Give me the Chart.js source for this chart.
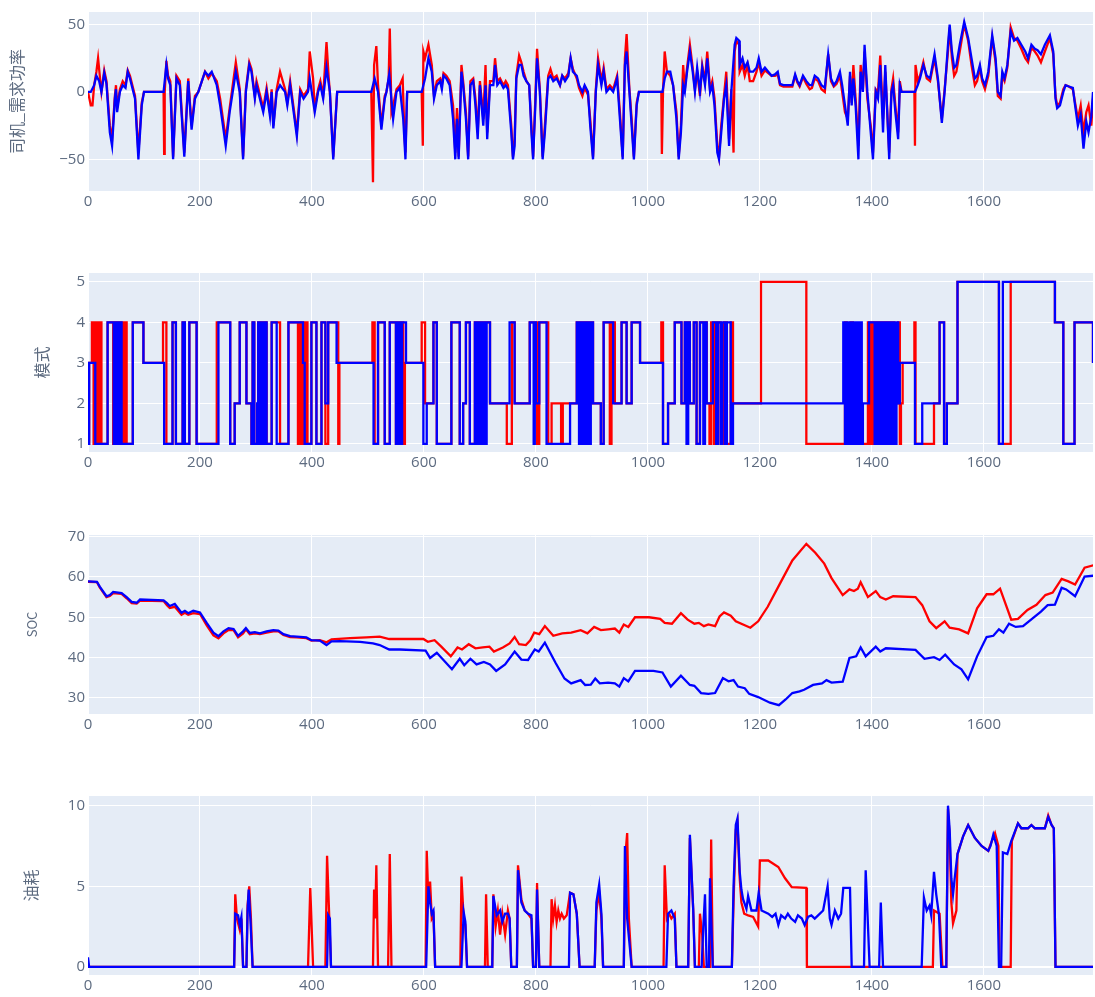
<!DOCTYPE html>
<html>
<head>
<meta charset="utf-8">
<title>chart</title>
<script src="https://cdn.jsdelivr.net/npm/chart.js@4.4.1/dist/chart.umd.min.js"></script>
<style>
  html, body { margin: 0; padding: 0; background: #ffffff; }
  body { width: 1095px; height: 997px; position: relative; overflow: hidden; }
  .panel { position: absolute; left: 0; width: 1095px; height: 221px; }
</style>
</head>
<body>
<div class="panel" style="top:0px"><canvas id="powerChart" width="1095" height="221"></canvas></div>
<div class="panel" style="top:261px"><canvas id="modeChart" width="1095" height="221"></canvas></div>
<div class="panel" style="top:523px"><canvas id="socChart" width="1095" height="221"></canvas></div>
<div class="panel" style="top:784px"><canvas id="fuelChart" width="1095" height="221"></canvas></div>
<script>
// tick labels
const xTicks = [0, 200, 400, 600, 800, 1000, 1200, 1400, 1600];
const powerTicks = [-50, 0, 50];
const modeTicks = [1, 2, 3, 4, 5];
const socTicks = [30, 40, 50, 60, 70];
const fuelTicks = [0, 5, 10];

// 司机_需求功率  [time, value]
const powerBlue = [[0,0],[5,0],[11,5],[15,12],[20,8],[24,0],[29,14],[33,6],[39,-30],[43,-40],[48,-5],[50,2],[52,-15],[57,0],[62,5],[67,3],[71,15],[75,10],[81,0],[84,-5],[90,-50],[96,-10],[100,0],[135,0],[140,20],[143,10],[147,5],[152,-50],[158,10],[164,5],[172,-48],[179,8],[185,-28],[191,-5],[197,0],[209,15],[215,12],[221,15],[230,5],[236,-10],[241,-25],[246,-40],[253,-15],[264,15],[271,0],[277,-50],[282,0],[288,20],[292,15],[298,-5],[301,5],[307,-5],[313,-15],[319,0],[325,-18],[328,0],[331,-27],[337,0],[343,5],[352,0],[356,-10],[361,5],[373,-33],[379,0],[385,-5],[393,0],[396,10],[405,-15],[411,0],[415,5],[420,-5],[426,18],[432,0],[438,-50],[445,0],[506,0],[512,10],[518,0],[524,-28],[530,-5],[533,0],[538,13],[545,-20],[551,0],[557,3],[563,-20],[567,-50],[570,0],[596,0],[602,10],[608,25],[614,15],[618,-5],[623,5],[629,8],[632,2],[635,12],[640,10],[646,5],[652,-20],[656,-50],[659,-20],[662,-50],[667,15],[670,5],[675,-20],[679,-50],[683,5],[688,8],[692,-10],[696,-35],[700,5],[703,-10],[706,-25],[710,5],[713,-35],[718,5],[724,5],[727,20],[731,5],[736,8],[742,3],[746,5],[750,2],[756,-30],[759,-50],[762,-40],[765,10],[770,20],[774,20],[778,12],[783,8],[788,5],[792,-30],[795,-50],[799,-10],[802,25],[807,0],[812,-50],[816,-30],[822,10],[826,12],[831,8],[837,10],[843,5],[847,12],[852,8],[858,12],[862,25],[866,15],[873,12],[877,5],[883,0],[887,5],[893,0],[897,-25],[902,-50],[907,0],[911,20],[917,5],[921,15],[926,0],[932,3],[938,0],[945,10],[950,-20],[955,-50],[959,20],[962,30],[967,0],[971,-25],[975,-50],[980,-10],[984,0],[1026,0],[1030,10],[1034,15],[1040,15],[1045,5],[1051,-20],[1055,-50],[1059,-30],[1063,5],[1066,0],[1070,15],[1075,30],[1080,15],[1084,0],[1088,18],[1093,0],[1097,18],[1102,5],[1106,25],[1111,0],[1115,5],[1119,-10],[1124,-45],[1127,-50],[1131,-30],[1136,-5],[1140,5],[1145,-40],[1149,0],[1155,35],[1158,40],[1163,38],[1164,20],[1169,25],[1173,18],[1178,22],[1182,15],[1188,15],[1194,18],[1198,25],[1203,15],[1209,18],[1215,15],[1221,12],[1227,13],[1232,15],[1236,6],[1242,5],[1251,5],[1258,5],[1263,13],[1267,8],[1271,5],[1277,12],[1283,8],[1289,5],[1293,5],[1298,12],[1304,10],[1310,5],[1316,3],[1322,28],[1327,10],[1332,5],[1337,8],[1343,15],[1347,5],[1352,-10],[1357,-25],[1361,15],[1364,-10],[1367,10],[1371,-10],[1376,-50],[1380,15],[1384,0],[1387,35],[1392,0],[1398,-30],[1402,-50],[1407,0],[1411,-5],[1415,20],[1420,-30],[1424,20],[1431,-50],[1435,0],[1438,5],[1442,-15],[1447,-35],[1450,5],[1453,0],[1477,0],[1482,5],[1486,10],[1492,20],[1498,12],[1504,10],[1512,28],[1518,10],[1525,-23],[1530,0],[1536,35],[1539,50],[1543,30],[1547,18],[1551,20],[1557,35],[1565,52],[1572,40],[1578,25],[1584,10],[1588,12],[1593,20],[1597,10],[1602,5],[1608,15],[1615,42],[1621,25],[1625,0],[1630,-3],[1633,15],[1637,10],[1642,20],[1648,45],[1654,38],[1660,40],[1667,35],[1674,30],[1679,25],[1685,35],[1691,32],[1696,31],[1702,28],[1709,35],[1718,42],[1724,30],[1728,-5],[1731,-12],[1736,-10],[1742,0],[1746,5],[1752,4],[1759,3],[1763,-10],[1768,-25],[1773,-17],[1778,-42],[1783,-22],[1787,-30],[1792,-18],[1795,0]];
const powerRed = [[0,0],[5,-10],[8,-10],[11,5],[15,15],[18,25],[22,8],[24,0],[29,16],[33,8],[39,-25],[43,-35],[48,-3],[50,5],[52,-12],[57,2],[62,8],[67,5],[71,16],[75,12],[81,2],[84,-3],[90,-45],[96,-8],[100,0],[135,0],[136,-46],[137,0],[140,23],[143,12],[147,8],[152,-48],[158,12],[164,8],[172,-45],[179,10],[185,-25],[191,-3],[197,0],[209,15],[215,10],[221,14],[230,8],[236,-5],[241,-20],[246,-35],[253,-12],[264,22],[271,2],[277,-48],[282,2],[288,22],[292,17],[298,-3],[301,8],[307,-2],[313,-12],[319,3],[325,-15],[328,2],[331,-25],[337,2],[343,15],[352,2],[356,-8],[361,8],[373,-30],[379,2],[385,-3],[393,2],[396,30],[402,10],[405,-12],[411,2],[415,8],[420,-3],[426,37],[430,10],[432,0],[438,-48],[445,0],[506,0],[509,-67],[511,20],[515,34],[518,5],[524,-25],[530,-3],[533,0],[537,10],[539,47],[542,-15],[545,-10],[551,2],[557,5],[562,10],[565,-30],[567,-45],[570,0],[596,0],[598,-40],[599,30],[602,25],[608,35],[614,20],[618,-3],[623,8],[629,10],[632,5],[635,14],[640,12],[646,8],[652,-10],[656,-45],[659,-12],[662,-48],[667,20],[670,8],[675,-15],[679,-48],[683,8],[688,10],[692,-5],[696,-30],[700,8],[703,-5],[706,-20],[710,20],[713,-30],[718,8],[724,8],[727,25],[731,8],[736,10],[742,5],[746,8],[750,5],[756,-25],[759,-48],[762,-35],[765,12],[770,27],[774,22],[778,15],[783,8],[788,5],[792,-25],[795,-48],[799,-5],[802,32],[807,2],[812,-48],[816,-25],[822,12],[826,17],[831,10],[837,12],[843,5],[847,12],[852,10],[858,14],[862,25],[866,17],[873,10],[877,3],[883,-3],[887,3],[893,-2],[897,-20],[902,-48],[907,2],[911,25],[917,8],[921,18],[926,2],[932,5],[938,2],[945,12],[950,-15],[955,-48],[959,25],[962,43],[967,2],[971,-20],[975,-48],[980,-8],[984,0],[1024,0],[1025,-46],[1027,0],[1030,30],[1034,15],[1040,12],[1045,5],[1051,-15],[1055,-48],[1059,-25],[1063,20],[1066,2],[1070,18],[1075,35],[1080,18],[1084,2],[1088,15],[1093,-3],[1097,20],[1102,8],[1106,30],[1111,2],[1115,8],[1119,-5],[1124,-40],[1127,-48],[1131,-25],[1136,-3],[1140,15],[1145,-35],[1149,2],[1153,-45],[1155,30],[1158,38],[1163,35],[1164,15],[1169,20],[1173,12],[1178,20],[1182,8],[1188,8],[1194,15],[1198,22],[1203,12],[1209,16],[1215,14],[1221,12],[1227,12],[1232,13],[1236,5],[1242,4],[1251,4],[1258,4],[1263,12],[1267,7],[1271,4],[1277,11],[1283,6],[1289,2],[1293,3],[1298,10],[1304,8],[1310,2],[1316,0],[1322,28],[1327,8],[1332,4],[1337,6],[1343,12],[1347,0],[1352,-15],[1357,-20],[1361,12],[1364,-8],[1367,20],[1371,-5],[1376,-40],[1380,20],[1384,2],[1387,30],[1392,-5],[1398,-25],[1402,-45],[1407,2],[1411,0],[1415,27],[1420,-20],[1424,15],[1431,-45],[1435,2],[1438,10],[1442,-10],[1447,-30],[1450,8],[1453,0],[1476,0],[1477,-40],[1478,20],[1482,8],[1486,12],[1492,22],[1498,10],[1504,8],[1512,25],[1518,8],[1525,-20],[1530,2],[1536,30],[1539,48],[1543,25],[1547,12],[1551,15],[1557,30],[1565,50],[1572,38],[1578,20],[1584,5],[1588,8],[1593,18],[1597,8],[1602,2],[1608,12],[1615,40],[1621,22],[1625,-3],[1630,-5],[1633,12],[1637,8],[1642,18],[1648,48],[1654,40],[1660,38],[1667,32],[1674,25],[1679,22],[1685,33],[1691,30],[1696,27],[1702,22],[1709,30],[1718,40],[1724,28],[1728,-3],[1731,-10],[1736,-8],[1742,2],[1746,5],[1752,4],[1759,2],[1763,-8],[1768,-20],[1773,-10],[1778,-30],[1783,-15],[1787,-10],[1792,-25],[1795,-5]];

// 模式  [time where the mode starts, mode]
const modeBlue = [[0,1],[2,3],[13,1],[35,4],[46,1],[48,4],[51,1],[53,4],[56,1],[58,4],[60,1],[80,4],[99,3],[136,1],[151,4],[157,1],[169,4],[173,1],[181,4],[194,1],[233,4],[254,1],[262,2],[271,4],[283,2],[292,1],[294,4],[297,1],[302,2],[304,4],[306,1],[308,4],[311,1],[313,4],[315,1],[317,4],[319,1],[328,4],[337,1],[358,4],[384,3],[387,1],[399,4],[408,1],[417,4],[424,2],[429,4],[444,3],[510,1],[518,4],[530,1],[539,4],[550,1],[554,4],[558,1],[561,4],[568,3],[599,1],[605,2],[617,4],[623,1],[649,4],[664,1],[670,2],[675,4],[682,1],[691,4],[694,1],[697,4],[700,1],[702,4],[705,1],[707,4],[710,1],[712,4],[718,2],[753,4],[762,2],[789,4],[796,1],[798,4],[800,2],[806,4],[819,1],[861,2],[873,4],[877,1],[880,4],[884,1],[887,4],[890,1],[893,4],[896,1],[898,4],[902,2],[916,1],[921,4],[938,2],[953,4],[962,2],[971,4],[986,3],[1027,1],[1036,2],[1048,4],[1060,2],[1066,4],[1069,1],[1072,4],[1075,2],[1082,4],[1087,1],[1093,4],[1099,1],[1102,4],[1105,2],[1116,4],[1122,1],[1125,4],[1130,1],[1133,4],[1138,1],[1141,4],[1148,1],[1152,2],[1349,4],[1352,1],[1355,4],[1358,1],[1361,4],[1364,1],[1367,4],[1370,1],[1373,4],[1377,1],[1379,4],[1382,1],[1384,2],[1395,4],[1405,1],[1408,4],[1411,1],[1414,4],[1417,1],[1420,4],[1423,1],[1426,4],[1429,1],[1432,4],[1435,1],[1438,4],[1441,1],[1444,4],[1447,2],[1450,3],[1477,1],[1490,2],[1521,4],[1529,1],[1534,2],[1553,5],[1627,1],[1634,5],[1727,4],[1742,1],[1762,4],[1795,3]];
const modeRed = [[0,1],[2,3],[7,4],[10,1],[13,4],[16,1],[20,4],[24,1],[35,4],[45,1],[47,4],[50,1],[52,4],[55,1],[57,4],[59,1],[62,4],[65,1],[67,4],[69,1],[80,4],[99,3],[134,4],[140,1],[151,4],[157,1],[169,4],[173,1],[181,4],[194,1],[230,4],[254,1],[262,2],[271,4],[283,2],[292,1],[294,4],[297,1],[304,4],[319,1],[328,4],[343,1],[358,4],[375,1],[377,4],[380,1],[382,4],[386,1],[389,4],[392,1],[399,4],[408,1],[417,4],[424,1],[429,4],[447,1],[449,3],[508,4],[512,1],[518,4],[530,1],[539,4],[550,1],[554,4],[563,1],[566,3],[596,4],[602,2],[617,4],[623,1],[649,4],[664,1],[670,2],[675,4],[682,1],[691,4],[718,2],[748,1],[757,4],[762,2],[789,4],[802,1],[806,4],[822,1],[828,2],[845,1],[848,2],[873,4],[902,2],[916,1],[921,4],[932,1],[935,4],[941,2],[953,4],[962,2],[971,4],[986,3],[1024,4],[1027,1],[1036,2],[1048,4],[1060,2],[1066,4],[1075,2],[1082,4],[1087,1],[1093,4],[1105,2],[1110,1],[1113,4],[1118,1],[1122,4],[1130,1],[1136,4],[1141,1],[1148,4],[1152,2],[1202,5],[1283,1],[1352,4],[1355,1],[1362,4],[1366,1],[1393,4],[1396,1],[1399,4],[1402,1],[1405,4],[1408,1],[1412,4],[1416,1],[1420,4],[1424,1],[1428,4],[1432,1],[1436,4],[1440,2],[1447,4],[1450,1],[1452,2],[1455,3],[1476,4],[1478,1],[1511,2],[1521,4],[1529,1],[1534,2],[1553,5],[1627,1],[1648,5],[1727,4],[1742,1],[1762,4],[1795,3]];

// SOC  [time, value]
const socBlue = [[0,58.9],[16,58.8],[21,57.6],[33,55.2],[39,55.5],[45,56.3],[60,56],[69,55],[78,53.8],[87,53.6],[93,54.4],[135,54.2],[141,53.5],[146,52.8],[155,53.3],[167,51.1],[173,51.6],[179,51],[188,51.6],[200,51.2],[212,48.6],[224,46.2],[233,45.3],[242,46.5],[251,47.3],[260,47.1],[268,45.4],[277,46.5],[282,47.3],[289,46.1],[298,46.3],[307,46],[319,46.5],[331,46.8],[340,46.7],[349,45.8],[361,45.3],[373,45.2],[390,45],[399,44.3],[414,44.2],[426,43.1],[435,44],[450,44.1],[486,43.9],[509,43.5],[521,43.1],[538,42],[557,42],[603,41.7],[611,39.9],[623,41.2],[650,37.1],[664,39.7],[672,38.1],[683,39.7],[694,38.3],[707,38.9],[718,38.3],[729,36.7],[745,38.3],[762,41.5],[774,39.5],[786,39.4],[798,42],[805,41.5],[816,43.7],[835,38.7],[851,34.8],[863,33.6],[880,34.4],[888,33.2],[898,33.3],[906,34.8],[914,33.6],[929,33.8],[941,33.6],[949,32.8],[957,34.9],[965,34.1],[977,36.7],[1010,36.7],[1026,36.3],[1041,32.8],[1059,35.5],[1075,33.2],[1083,33],[1095,31.2],[1108,31],[1120,31.2],[1134,34.9],[1144,34.1],[1153,34.4],[1161,32.8],[1173,32.4],[1181,31],[1197,30.2],[1218,28.8],[1234,28.2],[1246,29.6],[1258,31.2],[1271,31.6],[1279,32],[1295,33.2],[1311,33.6],[1319,34.4],[1328,33.8],[1348,34],[1360,39.9],[1372,40.3],[1380,42.5],[1389,40.3],[1407,42.7],[1415,41.5],[1425,42.3],[1478,41.9],[1494,39.7],[1511,40.1],[1521,39.4],[1531,40.7],[1547,38.3],[1560,37.1],[1572,34.6],[1588,40.3],[1605,45.1],[1617,45.4],[1627,47],[1635,46.2],[1645,48.4],[1657,47.6],[1670,47.8],[1686,49.6],[1702,51.4],[1714,53],[1727,53.1],[1739,57.3],[1747,56.9],[1763,55.2],[1780,60.1],[1796,60.3]];
const socRed = [[0,58.8],[16,58.7],[21,57.4],[33,55],[39,55.3],[45,56],[60,55.8],[69,54.7],[78,53.5],[87,53.4],[93,54.1],[135,54],[141,53],[146,52.3],[155,52.6],[167,50.6],[173,51.1],[179,50.6],[188,51],[200,50.8],[212,48],[224,45.5],[233,44.8],[242,46],[251,46.8],[260,46.8],[268,45],[277,46],[282,47],[289,45.8],[298,46],[307,45.8],[319,46.2],[331,46.5],[340,46.5],[349,45.6],[361,45.1],[373,45],[390,44.8],[399,44.2],[414,44.3],[426,43.8],[435,44.5],[468,44.8],[497,45],[521,45.2],[538,44.6],[562,44.6],[599,44.6],[607,43.9],[619,44.3],[631,42.7],[648,40.3],[660,42.5],[668,42],[680,43.3],[692,42.3],[705,42.5],[717,42.7],[725,41.5],[741,42.5],[753,43.5],[762,45.1],[770,43.3],[782,43.1],[790,44.3],[797,46.2],[806,45.8],[816,47.8],[831,45.4],[847,46],[863,46.2],[880,46.8],[892,46],[904,47.6],[916,46.8],[929,47],[941,47.2],[949,46.2],[957,48.2],[965,47.6],[977,50],[1002,50],[1022,49.6],[1030,48.6],[1043,48.4],[1059,51],[1071,49.4],[1083,48.4],[1091,48.6],[1100,47.8],[1108,48.2],[1120,47.8],[1128,50.2],[1136,51.2],[1148,50.4],[1157,49],[1173,48],[1183,47.4],[1197,49],[1214,52.6],[1238,58.9],[1258,64.1],[1283,68.2],[1299,66],[1315,63.3],[1328,59.7],[1348,55.5],[1360,56.9],[1368,56.5],[1375,57.1],[1380,58.7],[1393,55],[1407,56.5],[1415,55],[1425,54.4],[1438,55.2],[1478,55],[1490,53],[1503,49],[1515,47.3],[1530,49],[1539,47.4],[1556,47],[1572,46],[1588,52.2],[1605,55.7],[1617,55.7],[1629,57.1],[1649,49.4],[1661,49.6],[1678,51.8],[1694,53.1],[1710,55.5],[1723,56.1],[1739,59.5],[1751,58.9],[1763,58.1],[1780,62.3],[1796,62.9]];

// 油耗  [time, value]
const fuelBlue = [[0,0.6],[2,0],[261,0],[263,3.3],[268,3.2],[271,2.6],[274,3.1],[277,0],[283,0],[285,3.5],[287,4.8],[290,3.0],[294,0],[427,0],[429,3.2],[432,3.0],[434,0],[604,0],[608,5.0],[611,4.0],[614,3.3],[617,3.5],[620,0],[667,0],[671,3.4],[674,2.8],[677,0],[722,0],[724,4.4],[730,3.2],[736,3.5],[740,2.8],[745,3.3],[750,3.3],[753,3.0],[756,0],[766,0],[768,6.0],[774,4.0],[780,3.5],[786,3.3],[792,3.2],[795,0],[800,0],[802,4.8],[806,0],[859,0],[861,4.6],[867,4.5],[873,3.3],[878,0],[905,0],[908,4.0],[913,5.1],[917,3.3],[920,0],[957,0],[959,7.5],[963,3.0],[971,0],[1033,0],[1036,3.3],[1042,3.5],[1048,3.0],[1051,0],[1072,0],[1075,8.2],[1081,3.5],[1084,0],[1096,0],[1099,2.5],[1102,4.5],[1105,0],[1109,0],[1111,5.5],[1114,2.0],[1116,0],[1150,0],[1153,5.0],[1157,8.8],[1160,9.2],[1164,5.9],[1167,4.8],[1170,4.2],[1176,3.6],[1179,4.4],[1185,3.5],[1194,3.5],[1198,4.6],[1203,3.5],[1215,3.3],[1222,3.1],[1228,3.3],[1233,2.6],[1238,3.2],[1245,3.0],[1250,3.3],[1256,3.0],[1263,2.8],[1268,3.2],[1275,3.0],[1280,2.6],[1286,3.1],[1292,3.2],[1298,3.0],[1304,3.2],[1313,3.5],[1321,5.0],[1325,3.0],[1328,2.6],[1334,3.5],[1340,3.0],[1345,3.3],[1349,4.9],[1361,4.9],[1364,0],[1386,0],[1389,6.0],[1392,3.5],[1396,0],[1413,0],[1416,4.0],[1420,0],[1489,0],[1493,4.3],[1498,3.5],[1503,3.8],[1506,3.2],[1511,5.9],[1515,4.5],[1520,3.2],[1524,0],[1533,0],[1536,10.0],[1539,8.5],[1542,5.5],[1545,4.5],[1548,5.5],[1553,7.0],[1563,8.1],[1572,8.8],[1584,8.0],[1596,7.5],[1608,7.2],[1612,7.5],[1617,8.2],[1623,7.5],[1627,0],[1631,0],[1634,7.1],[1642,7.0],[1649,7.8],[1661,8.9],[1667,8.6],[1679,8.6],[1685,8.8],[1691,8.6],[1709,8.6],[1715,9.3],[1721,8.8],[1725,8.6],[1728,0],[1796,0]];
const fuelRed = [[0,0],[261,0],[263,4.5],[266,3.0],[271,2.3],[274,3.0],[277,0],[283,0],[285,3.8],[288,5.0],[291,3.0],[294,0],[393,0],[397,4.9],[402,0],[424,0],[427,6.9],[432,2.0],[434,0],[509,0],[511,4.8],[513,3.0],[515,6.3],[518,0],[536,0],[539,7.0],[542,0],[603,0],[605,7.2],[608,4.0],[611,5.3],[614,3.0],[617,3.2],[620,0],[665,0],[667,5.6],[671,3.0],[674,2.6],[677,0],[709,0],[711,4.5],[714,0],[722,0],[724,4.5],[728,2.5],[732,3.5],[736,2.0],[740,3.3],[745,2.0],[750,3.5],[753,3.0],[756,0],[766,0],[768,6.3],[774,4.2],[780,3.5],[786,3.3],[792,3.0],[795,0],[800,0],[802,5.2],[806,0],[826,0],[828,4.2],[831,3.0],[834,3.8],[837,2.8],[840,3.5],[843,3.0],[846,3.3],[850,3.0],[855,3.2],[861,4.6],[867,4.5],[873,3.3],[878,0],[905,0],[908,3.5],[913,4.6],[917,3.0],[920,0],[957,0],[960,7.0],[963,8.3],[966,3.0],[971,0],[1028,0],[1030,6.3],[1034,3.0],[1038,3.3],[1042,3.0],[1048,3.3],[1051,0],[1072,0],[1075,8.0],[1081,3.5],[1084,0],[1091,0],[1093,3.3],[1097,2.0],[1100,0],[1111,0],[1113,7.9],[1116,0],[1150,0],[1153,4.0],[1157,8.5],[1160,9.0],[1164,5.5],[1167,4.0],[1172,3.3],[1179,3.2],[1188,3.1],[1197,2.5],[1200,6.6],[1215,6.6],[1233,6.2],[1245,5.5],[1257,4.95],[1283,4.9],[1284,0],[1509,0],[1511,3.5],[1521,3.3],[1526,0],[1533,0],[1536,9.8],[1539,8.0],[1542,4.0],[1545,2.7],[1551,3.5],[1553,7.0],[1563,8.1],[1572,8.8],[1584,8.0],[1596,7.5],[1608,7.2],[1612,7.6],[1620,8.3],[1626,7.5],[1628,0],[1648,0],[1650,7.8],[1661,8.9],[1667,8.6],[1679,8.6],[1685,8.8],[1691,8.6],[1709,8.6],[1715,9.4],[1721,8.8],[1725,8.6],[1728,0],[1796,0]];

const TEXT_COLOR = "#5d6b80";
const PLOT_BG = "#e5ecf6";

// plotly-like plot background
const plotBackground = {
  id: "plotBackground",
  beforeDraw(chart) {
    const { ctx, chartArea } = chart;
    ctx.save();
    ctx.fillStyle = PLOT_BG;
    ctx.fillRect(chartArea.left, chartArea.top, chartArea.width, chartArea.height);
    ctx.restore();
  },
};

const toPoints = (rows) => rows.map(([x, y]) => ({ x, y }));
const minusSign = (v) => (v < 0 ? "\u2212" + Math.abs(v) : String(v));

function makeChart(canvasId, cfg) {
  const ctx = document.getElementById(canvasId).getContext("2d");
  return new Chart(ctx, {
    type: "line",
    data: {
      datasets: [
        {
          data: toPoints(cfg.blue),
          borderColor: "#0000ff",
          borderWidth: 2.3,
          pointRadius: 0,
          stepped: cfg.stepped || false,
        },
        {
          data: toPoints(cfg.red),
          borderColor: "#ff0000",
          borderWidth: 2.3,
          pointRadius: 0,
          stepped: cfg.stepped || false,
        },
      ],
    },
    options: {
      responsive: false,
      animation: false,
      events: [],
      layout: { padding: { top: 4, right: 2, left: cfg.titleLeft, bottom: 0 } },
      plugins: { legend: { display: false }, tooltip: { enabled: false } },
      scales: {
        x: {
          type: "linear",
          min: 0,
          max: 1795,
          afterBuildTicks: (axis) => {
            axis.ticks = xTicks.map((v) => ({ value: v }));
          },
          afterFit: (axis) => {
            axis.height = 30;
          },
          grid: {
            color: "#ffffff",
            lineWidth: (c) => (c.tick && c.tick.value === 0 ? 2 : 1),
            drawTicks: false,
          },
          border: { display: false },
          ticks: {
            color: TEXT_COLOR,
            padding: 2,
            maxRotation: 0,
            font: { family: "'Open Sans', sans-serif", size: 15 },
            callback: (v) => String(v),
          },
        },
        y: {
          type: "linear",
          min: cfg.min,
          max: cfg.max,
          afterBuildTicks: (axis) => {
            axis.ticks = cfg.ticks.map((v) => ({ value: v }));
          },
          afterFit: (axis) => {
            axis.width = 88 - cfg.titleLeft;
          },
          grid: {
            color: "#ffffff",
            lineWidth: (c) => (cfg.zeroLine && c.tick && c.tick.value === 0 ? 2 : 1),
            drawTicks: false,
          },
          border: { display: false },
          ticks: {
            color: TEXT_COLOR,
            padding: 3,
            font: { family: "'Open Sans', sans-serif", size: 15 },
            callback: minusSign,
          },
          title: {
            display: true,
            text: cfg.title,
            color: TEXT_COLOR,
            padding: { top: 4, bottom: 4 },
            font: { family: "'Noto Sans CJK SC', 'Open Sans', sans-serif", size: cfg.titleSize },
          },
        },
      },
    },
    plugins: [plotBackground],
  });
}

makeChart("powerChart", {
  blue: powerBlue, red: powerRed, ticks: powerTicks,
  min: -73.5, max: 59.3, title: "司机_需求功率", titleSize: 16, titleLeft: 3, zeroLine: true,
});
makeChart("modeChart", {
  blue: modeBlue, red: modeRed, ticks: modeTicks, stepped: true,
  min: 0.8, max: 5.22, title: "模式", titleSize: 16, titleLeft: 28,
});
makeChart("socChart", {
  blue: socBlue, red: socRed, ticks: socTicks,
  min: 26, max: 70.4, title: "SOC", titleSize: 13, titleLeft: 20,
});
makeChart("fuelChart", {
  blue: fuelBlue, red: fuelRed, ticks: fuelTicks,
  min: -0.5, max: 10.6, title: "油耗", titleSize: 16, titleLeft: 17, zeroLine: true,
});
</script>
</body>
</html>
